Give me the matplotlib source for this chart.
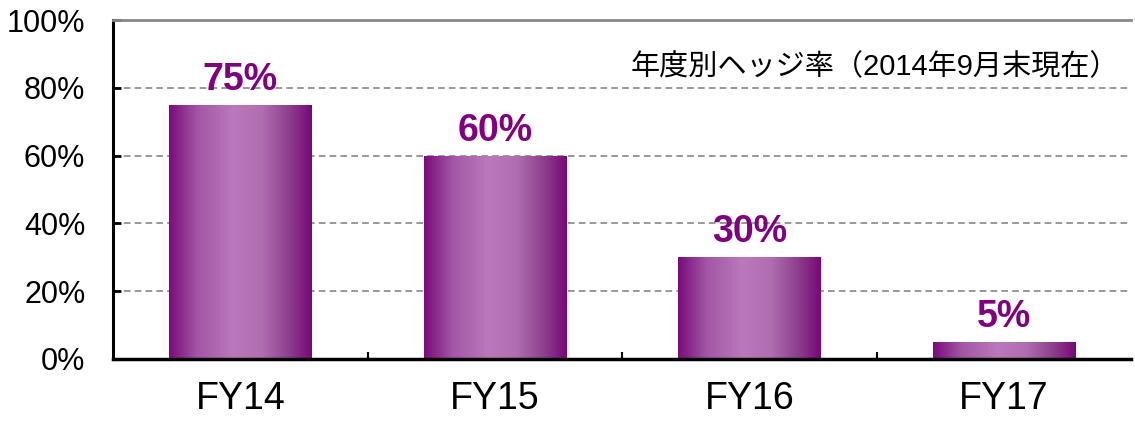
import numpy as np
import matplotlib.pyplot as plt
from matplotlib.colors import LinearSegmentedColormap

categories = ['FY14', 'FY15', 'FY16', 'FY17']
hedge_pct = [75, 60, 30, 5]
value_labels = ['75%', '60%', '30%', '5%']
yticks = [0, 20, 40, 60, 80, 100]
note = '年度別ヘッジ率（2014年9月末現在）'

plt.rcParams['font.family'] = ['Liberation Sans', 'Noto Sans CJK JP', 'DejaVu Sans']

cmap = LinearSegmentedColormap.from_list('bar', [
    (0.0, '#7a0c7c'), (0.2, '#a356a5'), (0.45, '#bb78bb'),
    (0.65, '#b06eb0'), (0.85, '#8c3c8c'), (1.0, '#780878')])
grad = np.linspace(0, 1, 256).reshape(1, -1)

fig = plt.figure(figsize=(11.35, 4.22), dpi=100)
ax = fig.add_axes([0.0996, 0.1493, 0.897, 0.8033])

w = 0.56
x = np.arange(len(categories))
bars = ax.bar(x, hedge_pct, width=w, color='none', zorder=3)
for b in bars:
    x0, y0 = b.get_x(), b.get_y()
    im = ax.imshow(grad, cmap=cmap, aspect='auto', zorder=3,
                   extent=(x0, x0 + b.get_width(), y0 - 1, y0 + b.get_height()))
    im.set_clip_path(b)

for xi, v, lab in zip(x, hedge_pct, value_labels):
    ax.annotate(lab, (xi, v), xytext=(0, 5), textcoords='offset points',
                ha='center', va='bottom', color='#800080',
                fontsize=27, fontweight='bold', zorder=4)

ax.set_xlim(-0.5, len(categories) - 0.5)
ax.set_ylim(0, 100)
ax.set_yticks(yticks)
ax.set_yticklabels([f'{t}%' for t in yticks])
ax.set_xticks(x)
ax.set_xticklabels(categories)
ax.set_xticks(np.arange(0.5, len(categories) - 1, 1), minor=True)

for t in yticks[1:-1]:
    ax.axhline(t, color='#888888', linestyle=(0, (4, 2.5)), linewidth=1.2, zorder=1)

ax.spines['right'].set_visible(False)
ax.spines['top'].set_color('#888888')
ax.spines['top'].set_linewidth(2)
ax.spines['left'].set_linewidth(2.2)
ax.spines['bottom'].set_linewidth(2.5)
ax.spines['bottom'].set_zorder(5)

ax.tick_params(axis='y', direction='in', length=6, width=2, labelsize=22, pad=20)
ax.tick_params(axis='x', which='major', length=0, labelsize=27, pad=16)
ax.tick_params(axis='x', which='minor', direction='in', length=5, width=1.5)

ax.text(0.988, 0.86, note, transform=ax.transAxes, ha='right', va='center',
        fontsize=21)

fig.savefig('out.png', dpi=100)
